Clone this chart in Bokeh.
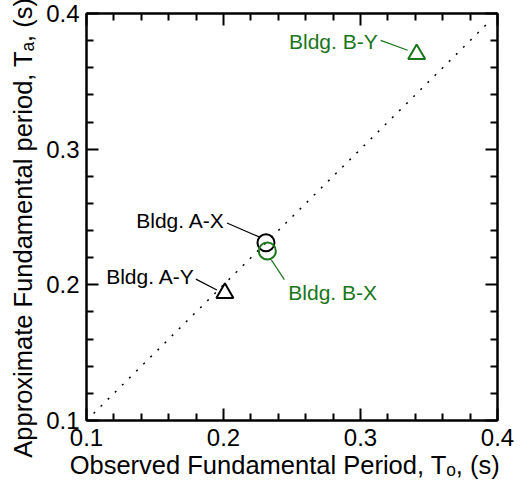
from bokeh.plotting import figure
from bokeh.models import Range1d, LinearAxis, FixedTicker, ColumnDataSource, CustomJSTickFormatter
from bokeh.core.properties import value
from bokeh.embed import file_html
from bokeh.resources import INLINE

# ---- data ----
names = ["Bldg. A-X", "Bldg. A-Y", "Bldg. B-X", "Bldg. B-Y"]
observed = [0.231, 0.201, 0.232, 0.341]   # T_o (s)
approx = [0.231, 0.194, 0.225, 0.370]     # T_a (s)
markers = ["circle", "triangle", "circle", "triangle"]
groups = ["A", "A", "B", "B"]
major_ticks = [0.1, 0.2, 0.3, 0.4]
minor_ticks = [0.12, 0.14, 0.16, 0.18, 0.22, 0.24, 0.26, 0.28, 0.32, 0.34, 0.36, 0.38]
ref_line = [0.1, 0.395]
x_title = "Observed Fundamental Period, T\u2092, (s)"
y_title = "Approximate Fundamental period, T\u2090, (s)"

# ---- styling / layout ----
FONT = "Liberation Sans"
GREEN = "#1a761a"
colors = {"A": "black", "B": GREEN}
label_off = {"Bldg. A-X": (-41, -22), "Bldg. A-Y": (-30, -16),
             "Bldg. B-X": (21, 42), "Bldg. B-Y": (-39, -13)}
label_align = {"Bldg. A-X": "right", "Bldg. A-Y": "right",
               "Bldg. B-X": "left", "Bldg. B-Y": "right"}
leader_off = {"Bldg. A-X": (-39, -20, -7, -6), "Bldg. A-Y": (-29, -14, -8, -3),
              "Bldg. B-X": (4, 9, 17, 29), "Bldg. B-Y": (-36, -14, -9, -4)}
NB = "\u00a0"  # padding to shift the centred axis titles like the reference

L, R, T, B = 90, 24, 17, 57
FW = 411
W, H = L + FW + R, T + FW + B
PX = (0.4 - 0.1) / FW  # data units per pixel

p = figure(width=W, height=H,
           x_range=Range1d(0.1, 0.4), y_range=Range1d(0.1, 0.4),
           output_backend="svg", toolbar_location=None,
           min_border_left=L, min_border_right=R, min_border_top=T, min_border_bottom=B,
           background_fill_color="white", border_fill_color="white")
p.styles = {"margin-top": "-4px", "margin-left": "-4px", "margin-bottom": "-4px"}
p.grid.visible = False
p.outline_line_color = "black"
p.outline_line_width = 2

xa, ya = p.below[0], p.left[0]
top_ax, right_ax = LinearAxis(), LinearAxis()
p.add_layout(top_ax, "above")
p.add_layout(right_ax, "right")

ticker = FixedTicker(ticks=major_ticks, minor_ticks=minor_ticks)
for ax in (xa, ya, top_ax, right_ax):
    ax.ticker = ticker
    ax.axis_line_color = "black"
    ax.axis_line_width = 2
    ax.major_tick_in = 12
    ax.major_tick_out = 0
    ax.minor_tick_in = 7
    ax.minor_tick_out = 0
    ax.major_tick_line_width = 2
    ax.minor_tick_line_width = 2
    ax.major_tick_line_color = "black"
    ax.minor_tick_line_color = "black"
    ax.major_label_text_font = FONT
    ax.major_label_text_color = "black"
    ax.major_label_text_font_size = "24px"
    ax.axis_label_text_font = FONT
    ax.axis_label_text_font_size = "25.5px"
    ax.axis_label_text_font_style = "normal"
    ax.axis_label_text_color = "black"
for ax in (top_ax, right_ax):
    ax.formatter = CustomJSTickFormatter(code="return ''")
    ax.major_label_standoff = 0
xa.major_label_standoff = 8
ya.major_label_standoff = 7
xa.axis_label = x_title + NB * 2
ya.axis_label = y_title + NB * 3
xa.axis_label_standoff = 2
ya.axis_label_standoff = 6

# 1:1 line
p.line(ref_line, ref_line, line_color="black", line_width=1.5, line_dash="2 8")

# leader lines
x0, y0, x1, y1 = [], [], [], []
for n, xo, yv in zip(names, observed, approx):
    a, b, c, d = leader_off[n]
    x0.append(xo + a * PX); y0.append(yv - b * PX)
    x1.append(xo + c * PX); y1.append(yv - d * PX)
seg_colors = [colors[g] for g in groups]
p.segment(x0, y0, x1, y1, line_color=seg_colors, line_width=1.2)

# markers
src = ColumnDataSource(dict(x=observed, y=approx, m=markers,
                            c=[colors[g] for g in groups]))
p.scatter("x", "y", source=src, marker="m", size=17, fill_color=None,
          line_color="c", line_width=2)

# building labels
for n, xo, yv, g in zip(names, observed, approx, groups):
    dx, dy = label_off[n]
    p.text([xo], [yv], text=[n], x_offset=dx, y_offset=dy,
           text_align=label_align[n], text_baseline="middle",
           text_font=value(FONT), text_font_size="21px", text_color=colors[g])

open("out.html", "w").write(file_html(p, INLINE))
